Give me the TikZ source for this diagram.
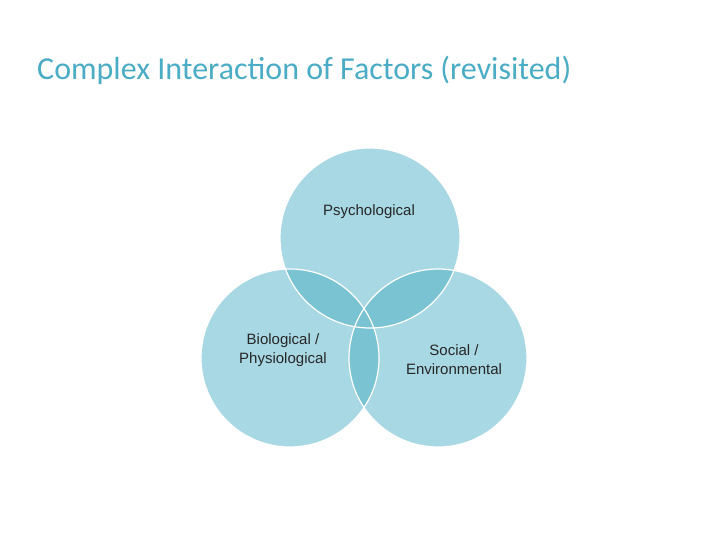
\documentclass[tikz,border=0pt]{standalone}
\usepackage{fontspec}
\setmainfont{Liberation Sans}
\newfontfamily\titlefont{Carlito}
\definecolor{lightc}{HTML}{A8D8E3}
\definecolor{darkc}{HTML}{7AC3D2}
\definecolor{titlec}{HTML}{4BACC6}
\begin{document}
\begin{tikzpicture}[x=1pt,y=-1pt,
  lbl/.style={font=\fontsize{15}{19}\selectfont, align=center, text=black!85}]
\useasboundingbox (0,0) rectangle (720,540);
\def\cA{(370,238) circle (90)}
\def\cB{(290,358) circle (89)}
\def\cC{(438,358) circle (89)}
\fill[lightc] \cA; \fill[lightc] \cB; \fill[lightc] \cC;
\begin{scope}\clip \cA; \fill[darkc] \cB; \fill[darkc] \cC; \end{scope}
\begin{scope}\clip \cB; \fill[darkc] \cC; \end{scope}
\draw[white, line width=1.2pt] \cA \cB \cC;
\node[anchor=west, inner sep=0pt, text=titlec, font=\titlefont\fontsize{32}{36}\selectfont] (title) at (37,70) {Complex Interaction of Factors (revisited)};
\node[lbl] (psy) at (369,212) {Psychological};
\node[lbl] (bio) at (283,350) {Biological /\\Physiological};
\node[lbl] (soc) at (454,360) {Social /\\Environmental};
\end{tikzpicture}
\end{document}
